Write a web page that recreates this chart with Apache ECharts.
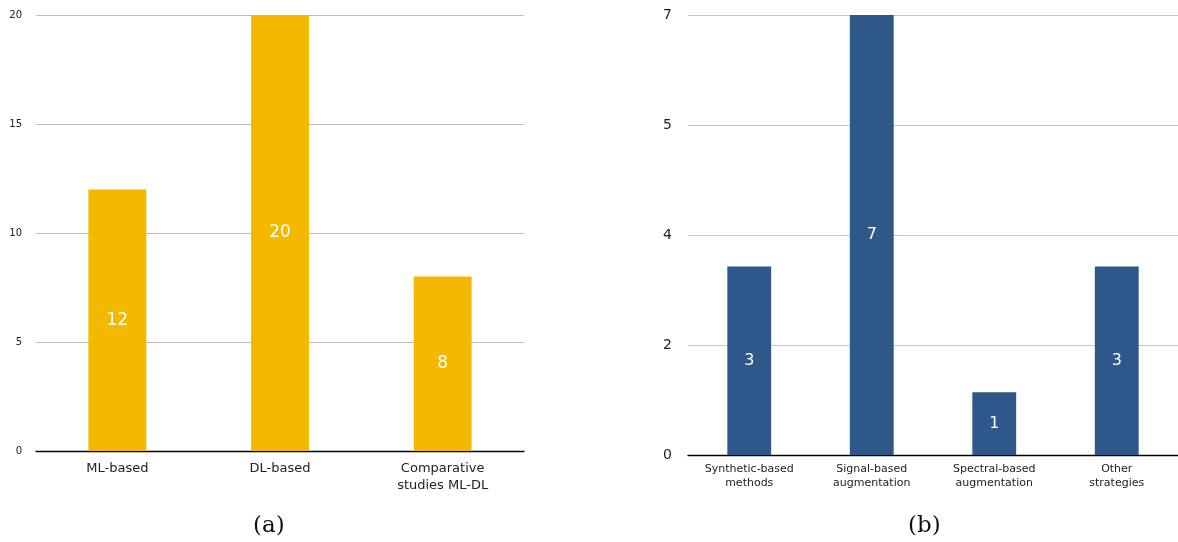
<!DOCTYPE html>
<html><head><meta charset="utf-8">
<script src="https://cdn.jsdelivr.net/npm/echarts@6/dist/echarts.min.js"></script>
<style>html,body{margin:0;padding:0;background:#fff}#c{width:1178px;height:542px}</style>
</head><body><div id="c"></div>
<script>
const catsA = ['ML-based', 'DL-based', 'Comparative\nstudies ML-DL'];
const valsA = [12, 20, 8];
const ticksA = ['0', '5', '10', '15', '20'];
const catsB = ['Synthetic-based\nmethods', 'Signal-based\naugmentation', 'Spectral-based\naugmentation', 'Other\nstrategies'];
const valsB = [3, 7, 1, 3];
const ticksB = ['0', '2', '4', '5', '7'];
const captions = ['(a)', '(b)'];

const chart = echarts.init(document.getElementById('c'), null, {renderer: 'canvas'});
const font = 'DejaVu Sans';
chart.setOption({
  animation: false,
  textStyle: {fontFamily: font},
  title: [
    {text: captions[0], left: 248, top: 510, textStyle: {fontFamily: 'DejaVu Serif', fontSize: 23, fontWeight: 'normal', color: '#111'}},
    {text: captions[1], left: 903, top: 510, textStyle: {fontFamily: 'DejaVu Serif', fontSize: 23, fontWeight: 'normal', color: '#111'}}
  ],
  grid: [
    {left: 36, right: 654, top: 15, bottom: 91},
    {left: 688, right: 0, top: 15, bottom: 87}
  ],
  xAxis: [
    {type: 'category', gridIndex: 0, data: catsA, axisTick: {show: false},
     axisLine: {lineStyle: {color: '#000', width: 1.3}},
     axisLabel: {fontSize: 13, color: '#222', margin: 9, lineHeight: 17, fontFamily: font}},
    {type: 'category', gridIndex: 1, data: catsB, axisTick: {show: false},
     axisLine: {lineStyle: {color: '#000', width: 1.3}},
     axisLabel: {fontSize: 11, color: '#222', margin: 7, lineHeight: 14, fontFamily: font}}
  ],
  yAxis: [
    {type: 'value', gridIndex: 0, min: 0, max: 20, interval: 5,
     axisLine: {show: false}, axisTick: {show: false},
     splitLine: {lineStyle: {color: '#bdbdbd', width: 1}},
     axisLabel: {fontSize: 10, color: '#222', margin: 14, fontFamily: font,
       formatter: (v) => ticksA[Math.round(v / 5)]}},
    {type: 'value', gridIndex: 1, min: 0, max: 7, interval: 1.75,
     axisLine: {show: false}, axisTick: {show: false},
     splitLine: {lineStyle: {color: '#c8c8c8', width: 1}},
     axisLabel: {fontSize: 14, color: '#222', margin: 16, fontFamily: font,
       formatter: (v) => ticksB[Math.round(v / 1.75)]}}
  ],
  series: [
    {type: 'bar', xAxisIndex: 0, yAxisIndex: 0, data: valsA, barWidth: '35.6%',
     itemStyle: {color: '#F5B800'},
     label: {show: true, position: 'inside', color: '#fff', fontSize: 17, fontFamily: font}},
    {type: 'bar', xAxisIndex: 1, yAxisIndex: 1, data: valsB, barWidth: '35.8%',
     itemStyle: {color: '#2E578A'},
     label: {show: true, position: 'inside', color: '#fff', fontSize: 16, fontFamily: font}}
  ]
});
</script></body></html>
